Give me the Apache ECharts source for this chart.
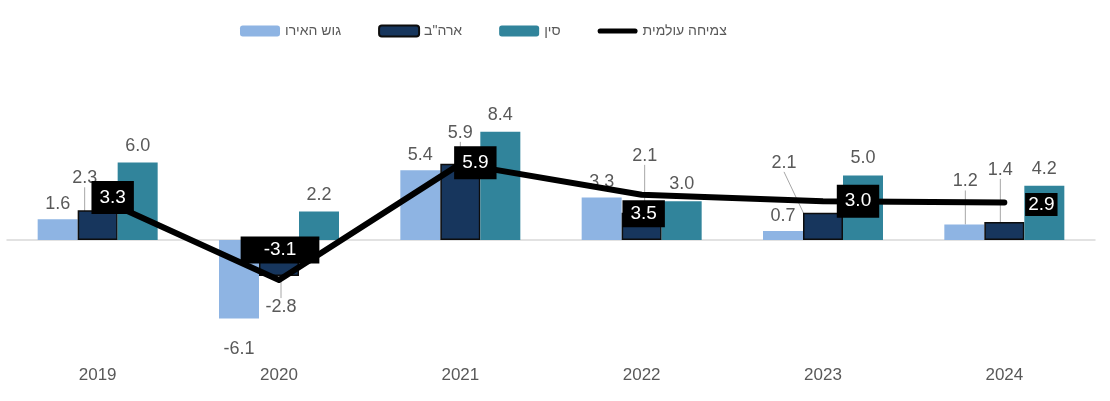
<!DOCTYPE html>
<html>
<head>
<meta charset="utf-8">
<script src="https://cdn.jsdelivr.net/npm/echarts@6/dist/echarts.min.js"></script>
<style>
  html, body { margin: 0; padding: 0; background: #fff; }
  #charts { width: 1110px; height: 401px; }
</style>
</head>
<body>
<div id="charts"></div>
<script>
// data
const years = ['2019', '2020', '2021', '2022', '2023', '2024'];
const euroArea = [1.6, -6.1, 5.4, 3.3, 0.7, 1.2];
const usa = [2.3, -2.8, 5.9, 2.1, 2.1, 1.4];
const china = [6.0, 2.2, 8.4, 3.0, 5.0, 4.2];
const world = [3.3, -3.1, 5.9, 3.5, 3.0, 2.9];

const names = ['גוש האירו', 'ארה"ב', 'סין', 'צמיחה עולמית'];

// label nudges (layout only)
const euroMove = [null, null, null, null, null, [1, -28]];
const usaMove = [[-13, -18], [2, 17], [0, -17], [3, -43], [-39, -36], [-4, -38]];
const worldOffset = [[15, 0], [1, -30], [15, -1], [2, 19], [35, 0], [37, 2]];
const worldPadding = [[7, 8], [4, 23], [7, 8], [4, 8], [7, 8], [2, 3]];

const font = 'Liberation Sans, Arial, sans-serif';
const textColor = '#595959';

function barData(values, moves) {
    return values.map((v, i) => ({
        value: v,
        label: {position: v < 0 ? 'bottom' : 'top'},
        labelLine: {show: !!(moves && moves[i])}
    }));
}

const euroData = barData(euroArea, euroMove);
euroData[1].label.distance = 21;

const option = {
    animation: false,
    textStyle: {fontFamily: font},
    legend: {
        left: 235,
        top: 19,
        itemWidth: 40,
        itemHeight: 11,
        itemGap: 37,
        textStyle: {fontSize: 14, color: textColor, fontFamily: font},
        data: [
            {name: names[0]},
            {name: names[1]},
            {name: names[2]},
            {name: names[3], icon: 'path://M3,0 L37,0 A2.5,2.5 0 0 1 37,5 L3,5 A2.5,2.5 0 0 1 3,0 Z'}
        ]
    },
    grid: {left: 7, right: 15, top: 111, bottom: 45},
    xAxis: [{
        type: 'category',
        data: years,
        axisLine: {show: false, onZero: false},
        axisTick: {show: false},
        axisLabel: {fontSize: 17, color: textColor, margin: 11, fontFamily: font}
    }, {
        type: 'category',
        data: years,
        position: 'bottom',
        axisLine: {show: true, onZero: true, lineStyle: {color: '#d9d9d9', width: 1.5}},
        axisTick: {show: false},
        axisLabel: {show: false}
    }],
    yAxis: {
        type: 'value',
        min: -9,
        max: 10,
        show: false,
        splitLine: {show: false}
    },
    series: [{
        name: names[0],
        type: 'bar',
        barWidth: 40,
        barGap: '0%',
        itemStyle: {color: '#8eb4e3'},
        label: {show: true, fontSize: 18, color: textColor, distance: 6, formatter: p => p.value.toFixed(1)},
        labelLine: {show: true, lineStyle: {color: '#a6a6a6', width: 1}},
        labelLayout: p => euroMove[p.dataIndex] ? {dx: euroMove[p.dataIndex][0], dy: euroMove[p.dataIndex][1]} : {},
        data: euroData
    }, {
        name: names[1],
        type: 'bar',
        barWidth: 40,
        barGap: '0%',
        itemStyle: {color: '#17365d', borderColor: '#0d0d0d', borderWidth: 1.5},
        label: {show: true, fontSize: 18, color: textColor, distance: 5, formatter: p => p.value.toFixed(1)},
        labelLine: {show: true, lineStyle: {color: '#a6a6a6', width: 1}},
        labelLayout: p => ({dx: usaMove[p.dataIndex][0], dy: usaMove[p.dataIndex][1]}),
        data: barData(usa, usaMove)
    }, {
        name: names[2],
        type: 'bar',
        barWidth: 40,
        barGap: '0%',
        itemStyle: {color: '#31849b'},
        label: {show: true, fontSize: 18, color: textColor, distance: 8, formatter: p => p.value.toFixed(1)},
        data: barData(china)
    }, {
        name: names[3],
        type: 'line',
        z: 5,
        symbol: 'circle',
        symbolSize: 1,
        showSymbol: true,
        lineStyle: {color: '#000', width: 6, cap: 'round', join: 'round'},
        itemStyle: {color: '#000'},
        label: {show: true},
        data: world.map((v, i) => ({
            value: v,
            label: {
                show: true,
                position: 'inside',
                offset: worldOffset[i],
                padding: worldPadding[i],
                backgroundColor: '#000',
                color: '#fff',
                fontSize: 19,
                fontFamily: font,
                formatter: p => p.value.toFixed(1)
            }
        }))
    }]
};

const chart = echarts.init(document.getElementById('charts'));
chart.setOption(option);
</script>
</body>
</html>
